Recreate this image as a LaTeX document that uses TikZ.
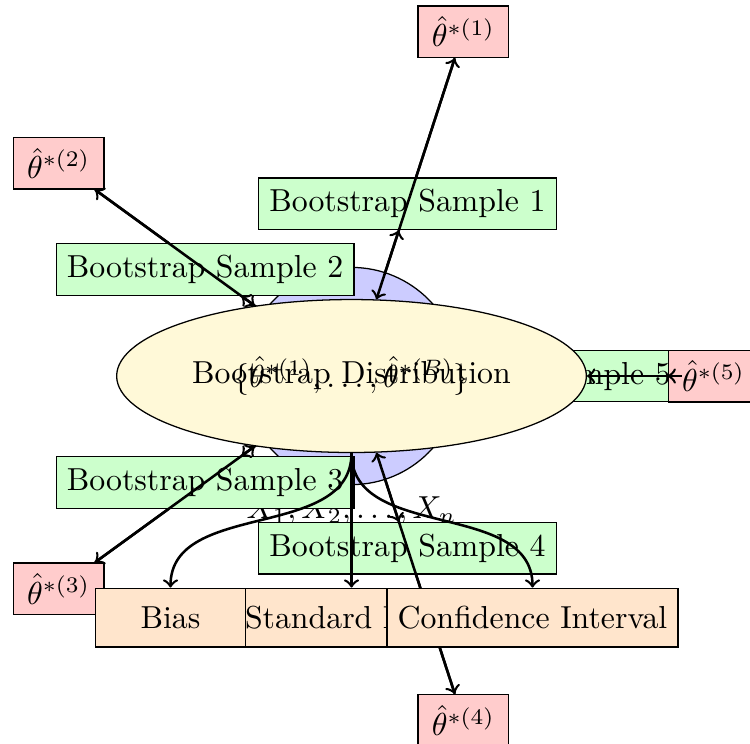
\documentclass[tikz,border=0pt]{standalone}
\usetikzlibrary{shapes.geometric}
\definecolor{distfill}{RGB}{255,249,216}
\begin{document}
\begin{tikzpicture}[
  sbox/.style={draw, fill=green!20, rectangle, minimum height=0.57cm},
  tbox/.style={draw, fill=red!20, rectangle, minimum width=1cm},
  obox/.style={draw, fill=orange!20, rectangle, minimum height=0.65cm},
  arr/.style={->, thick}
]
\useasboundingbox (-3.884,-4.055) rectangle (4.403,4.155);
\node[circle, draw, fill=blue!20, minimum size=2.4cm, label=below:{$X_1, X_2, \ldots, X_n$}] (orig) at (0,0) {};
\foreach \i in {1,...,5} {
  \node[sbox] (s\i) at ({72*\i}:2) {Bootstrap Sample \i};
  \draw[arr] (orig) -- (s\i);
  \node[tbox] (t\i) at ({72*\i}:4) {$\hat{\theta}^{*(\i)}$};
  \draw[arr] (s\i) -- (t\i);
}
\node[ellipse, draw, fill=distfill, inner sep=0pt, minimum width=5.19cm, minimum height=1.69cm] (dist) at (0,0) {Bootstrap Distribution};
\node (set) at (0,0) {$\{\hat{\theta}^{*(1)}, \ldots, \hat{\theta}^{*(B)}\}$};
\foreach \i in {1,...,5} \draw[arr] (t\i) -- (dist);
\node[obox] (se) at (0,-2.67) {Standard Error};
\node[obox, minimum width=1.66cm] (bias) at (-2,-2.67) {Bias};
\node[obox] (ci) at (2,-2.67) {Confidence Interval};
\draw[arr] (dist.south) to[out=-90,in=90] (bias.north);
\draw[arr] (dist.south) -- (se.north);
\draw[arr] (dist.south) to[out=-90,in=90] (ci.north);
\end{tikzpicture}
\end{document}
